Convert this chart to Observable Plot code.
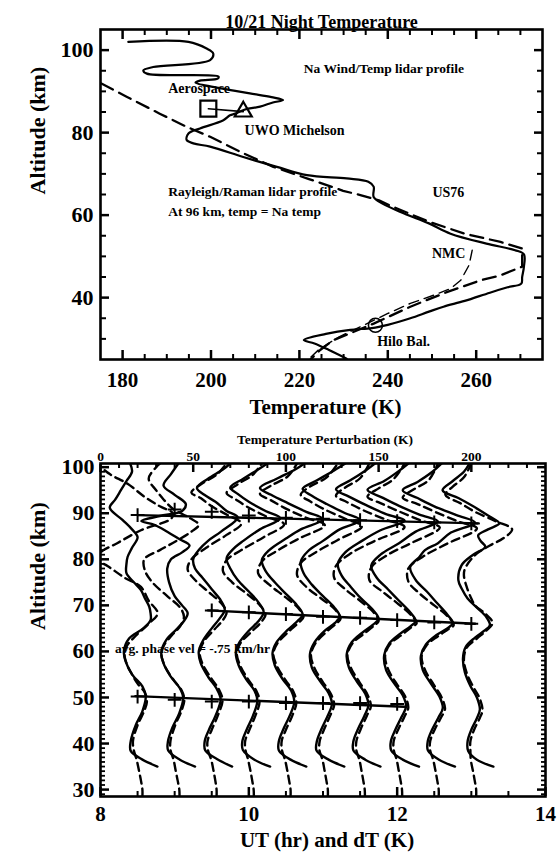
<!DOCTYPE html>
<html><head><meta charset="utf-8">
<script src="https://cdn.jsdelivr.net/npm/d3@7"></script>
<script src="https://cdn.jsdelivr.net/npm/@observablehq/plot@0.6"></script>
<style>
html,body{margin:0;padding:0;background:#fff;}
#chart svg{display:block;}
</style></head><body><div id="chart"></div>
<script>
// ---------------- TOP PANEL DATA: [temperature K, altitude km] ----------------
const naRayleighProfile = [[181.3,102],[194.9,102],[199,100.4],[200.5,99.2],[199.8,97.6],[186.9,95.9],[184.7,95.1],[185.5,94.3],[201.7,93.6],[201.5,93.1],[197.5,92.6],[196.5,92.1],[202,90.8],[208.8,89.5],[213.7,88.6],[216.3,87.9],[214,87.3],[211.1,86.3],[207.7,85.6],[205.5,84.6],[204.3,84.2],[202.8,83],[197.5,81],[194.9,79.8],[194.5,78.2],[196,77.4],[199.8,76.6],[207.3,74.1],[214.9,71.7],[221.7,69.7],[230.7,68.9],[235.6,68.1],[236.8,66.9],[236.8,64.4],[238.8,62.8],[243.7,60.4],[249.3,58],[254.2,55.5],[262.3,53.1],[268.8,51.5],[270.8,50.5],[270.8,47.5],[270.4,45],[270.2,43.4],[267.1,42.5],[263.1,41.2],[257.4,39.2],[252.6,37.8],[249.3,36.6],[245.1,35],[240,33.4],[236.4,32.6],[231.5,32.2],[226,31.2],[221,29.7],[223.4,28.9],[226.7,27.3],[230.7,25.2]];
const us76Profile = [[175.2,91.9],[180.9,88.7],[188.4,84.6],[194.5,81.4],[199.8,79],[207.3,75],[214.1,71.7],[222,68.8],[229.9,65.9],[234,64.8],[238,63.6],[241.2,62],[249.3,58.4],[257.4,55.5],[265.5,53.5],[270.4,51.9],[270.4,47.5],[265.5,45.4],[261,44.2],[253.5,41.4],[245.1,37.8],[236.8,33.7],[227.7,29.7],[224.7,27.3],[222.5,25]];
const nmcProfile = [[259.1,51.5],[258.4,47.9],[256.5,44.2],[254.2,42.2],[250.4,40.6],[245.1,38.6],[239.9,36.1],[235.3,33.7],[229,30.5],[224.5,27.5],[222,25]];
const aerospacePoint = [199.4, 85.8];
const uwoPoint = [207.3, 85.1];
const hiloPoint = [237.2, 33.3];
const tempMajorTicks = [180, 200, 220, 240, 260];
const tempMinorTicks = [185,190,195,205,210,215,225,230,235,245,250,255,265,270];
const altMajorTicksTop = [40, 60, 80, 100];
const altMinorTicksTop = [30,35,45,50,55,65,70,75,85,90,95];

// ---------------- BOTTOM PANEL DATA ----------------
// profile times (UT hr); each profile: [altitude km, perturbation dT K]
const profileUT = [8.5, 9.0, 9.5, 10.0, 10.5, 11.0, 11.5, 12.0, 12.5, 13.0];
const kelvinPerHour = 40; // top axis: 240 K spans the 6 hr bottom axis

const s0 = [[35,10.7],[36.5,2.6],[38.4,-3.7],[40.5,-3.7],[44,-1],[47,2.6],[50.2,4.4],[52.4,2.6],[54.9,-2.8],[57.8,-6.4],[60,-7.4],[62.8,-4.6],[65,3],[66.8,7],[68.3,7],[69.7,6.3],[71.5,4],[73.3,1.8],[75,-2],[77,-6],[79,-6],[80.5,-5.4],[82.5,-3],[84.8,0],[86.5,-3],[88.5,-8],[91.2,-15],[93,-12],[95,-9],[97,-6],[99,-3],[100.8,-4]];
const s1 = [[35,11],[36.5,2.8],[38.5,-3.5],[40.5,-3.6],[43.5,-1.2],[46.5,2.4],[49.9,4.6],[52,2.8],[54.7,-2.4],[57.6,-6.2],[59.9,-7.2],[62.5,-4.5],[64.8,1],[66.6,5],[68.3,7],[70,4],[72,0],[75,-3],[78,-4],[80,-2],[81.5,4],[83,8],[84.5,2],[86,-4],[87.5,-11],[88.3,-18],[89.4,-8],[90.5,4],[92,6],[94,0],[96,-6],[98.5,-2],[100.8,2]];
const s2 = [[35,11],[36.6,3],[38.5,-3.5],[40.5,-3.8],[43,-1.5],[46,2],[49.6,4.8],[52,2.5],[54.5,-2],[57.5,-6],[60,-7],[62.5,-4.5],[65,0],[67,4],[69,7],[71,5],[73.5,0],[76,-5],[78,-9],[80,-10],[82,-7],[84,-2],[86,5],[89.1,14],[90.5,8],[92.5,2],[94,-4],[95.5,-8],[97.5,-2],[99.5,6],[100.8,10]];
const s3 = [[35,11.5],[36.5,3],[38.6,-3.2],[40.5,-3.5],[43,-1.2],[46,2.2],[49.3,4.6],[51.5,3],[54,-1.5],[57,-5.5],[59.8,-7],[62,-5],[64.5,0],[66.5,5],[68.5,8],[70.5,5.5],[73,0],[75.5,-6],[78,-10],[80.2,-12],[82,-9],[84,-3],[86.5,6],[88.9,17],[90.5,9],[92.5,0],[94.2,-6],[95.6,-10],[97.5,-3],[99.5,5],[100.8,10]];
const s4 = [[35,11],[36.5,2.5],[38.5,-3.8],[40.5,-3.8],[43,-1.5],[46,2],[49,4.5],[51.5,2.8],[54,-1.8],[57,-6],[59.7,-7.2],[62,-5],[64.5,0.5],[66.5,6],[68,9],[70,6],[72.5,0],[75,-6],[77.5,-11],[79.8,-13],[82,-9],[84.5,0],[86.5,8],[88.7,20],[90.3,11],[92.2,1],[94,-8],[95.5,-14],[97.5,-5],[99.5,5],[100.8,10]];
const s5 = [[35,11.5],[36.5,3],[38.5,-3.5],[40.5,-3.3],[43,-1],[46,2.5],[48.6,4.8],[51,3],[53.5,-1.5],[56.5,-6],[59.5,-7],[62,-4.5],[64.5,1],[66.2,6.5],[67.6,9],[69.6,6],[72,0],[74.5,-6],[77,-10.5],[79.5,-12],[81.8,-8],[84,0],[86.5,9],[88.5,20],[90,12],[92,2],[93.8,-6],[95.3,-11],[97.2,-3],[99.3,6],[100.8,12]];
const s6 = [[35,11],[36.5,2.8],[38.5,-3.6],[40.5,-3.6],[43,-1.3],[46,2.3],[48.3,4.5],[50.8,2.8],[53.5,-1.8],[56.5,-6],[59.4,-7.2],[62,-4.5],[64,1],[65.8,7],[67.1,10],[69,7],[71.5,0.5],[74,-5],[76.5,-10],[79,-12],[81.5,-8],[84,1],[86.3,11],[88.4,24],[89.8,14],[91.8,3],[93.6,-6],[95.2,-13],[97.2,-5],[99.3,3],[100.8,8]];
const s7 = [[35,11.8],[36.5,3],[38.5,-3.2],[40.5,-3.4],[43,-1],[45.8,2.4],[48,4.8],[50.5,3],[53,-1.5],[56,-6],[59.2,-7],[61.8,-4.2],[63.8,1.5],[65.4,7],[66.6,10],[68.5,7],[71,1],[73.5,-5],[76,-11],[78.6,-14],[81,-9],[83.5,1],[86,10],[88.2,22],[89.7,12],[91.6,1],[93.4,-8],[95.1,-16],[97,-7],[99.2,1],[100.8,6]];
const s8 = [[35,11.2],[36.5,2.6],[38.5,-3.4],[40.5,-3.5],[43,-1.2],[45.6,2.2],[47.7,4.6],[50.2,2.8],[53,-1.8],[56,-6.2],[59,-7.2],[61.5,-4.5],[63.5,1],[65,7],[66.2,10],[68,7],[70.5,1.5],[73,-4],[75.5,-10],[78.3,-13],[80.5,-8],[82,-5],[83.5,2],[85.8,9],[88,22],[89.6,12],[91.5,0],[93.3,-9],[95,-17],[96.8,-9],[99,-1],[100.8,4]];
const s9 = [[35,11.9],[36.5,3],[38.4,-1.7],[40.5,-2],[43,0],[45.5,3],[47.4,4.6],[50,3],[52.5,-0.5],[55.5,-3.5],[58.5,-4.5],[61,-3],[63,2],[64.5,7],[65.7,10],[67.5,8],[69.5,3],[71.5,-2],[73.5,-5],[75.5,-7],[78.7,-5.3],[81,1],[82.7,7.5],[84,5],[85.2,3.7],[86.5,9],[87.8,15],[89.5,9],[91.5,1],[93.3,-7],[95,-15.5],[97,-10],[99,-4],[100.8,-1]];

const d0 = [[28.5,2.6],[30,2.6],[32,1.8],[34,0.8],[36.5,-0.5],[38.5,-2],[40.5,-2.5],[44,0],[47,3.5],[49,5],[51,4],[53,0],[55,-3],[57,-5.5],[59,-7],[61,-6],[63,-2],[66,6],[68.3,10.8],[71,6],[74,1.8],[76,-7],[78.5,-16],[80,-22],[81.5,-20],[83.5,-11],[86.3,1.8],[88.8,18],[90,19],[91.5,12],[93.5,4],[96.4,-5.4],[98.5,-15],[100.8,-22]];
const d1 = [[28.5,2.6],[30,2.5],[32,1.6],[34,0.6],[36.5,-0.6],[38.5,-2.2],[40.5,-2.3],[44,0.3],[47,3.6],[49.5,5.2],[51.5,3.8],[53.5,0],[55.5,-3.5],[57.5,-6],[59.5,-7.2],[61.5,-5.5],[63.5,-1.5],[65.5,3],[67.5,5],[69.5,3],[72,-4],[75,-12],[77.5,-16],[80,-16.4],[82,-8],[84,1],[86,9],[87.5,13],[89,8],[91,-1],[93,-6],[95,-10],[97.5,-14],[100,-10],[100.8,-8]];
const d2 = [[28.5,2.6],[30,2.6],[32,1.9],[34,1],[36.5,-0.3],[38.5,-2],[40.5,-2.3],[43,0],[46,3.2],[49.4,5.8],[51.8,3.8],[54.3,-0.5],[57.3,-5],[59.8,-6.5],[62.3,-4],[64.8,1.5],[66.8,6],[68.5,8],[70.5,5],[73,-2],[75.5,-9],[77.8,-13],[80,-11],[82.5,-3],[85.3,8],[87.8,16],[89.5,9],[91.5,0],[93.3,-6],[94.5,-11],[96.5,-5],[98.5,3],[100.8,8]];
const d3 = [[28.5,2.7],[30,2.6],[32,1.8],[34,0.9],[36.5,-0.4],[38.6,-1.8],[40.5,-2],[43,0.3],[46,3.5],[49.1,5.8],[51.3,4.2],[53.8,-0.2],[56.8,-4.5],[59.6,-6.5],[61.8,-4.5],[64.3,1.5],[66.3,6.5],[68,9],[70,6],[72.5,-1],[75,-9],[77.5,-14],[79.8,-12],[82,-4],[84.8,8],[87.6,19],[89.2,10],[91.2,0],[93,-7],[94.4,-12],[96.3,-6],[98.3,2],[100.8,7]];
const d4 = [[28.5,2.5],[30,2.5],[32,1.7],[34,0.8],[36.5,-0.5],[38.5,-2.1],[40.5,-2.3],[43,0],[46,3.4],[48.8,5.6],[51.3,4],[53.8,-0.3],[56.8,-4.8],[59.5,-6.8],[61.8,-4.5],[64.3,1.5],[66.3,7],[67.5,9.5],[69.5,6.5],[72,-1],[74.5,-9],[77,-15],[79.5,-13],[81.8,-5],[84.5,7],[87.4,21],[89,11],[91,0],[92.8,-8],[94.2,-14],[96,-8],[98,1],[100.8,6]];
const d5 = [[28.5,2.6],[30,2.6],[32,1.8],[34,0.9],[36.5,-0.3],[38.5,-1.9],[40.5,-1.8],[43,0.5],[46,3.8],[48.4,6],[50.8,4.2],[53.3,0],[56.3,-4.5],[59.3,-6.5],[61.8,-4],[64.3,2],[66,7],[67.1,9.5],[69.1,6.5],[71.5,-1],[74,-9],[76.6,-14],[79.2,-12],[81.5,-4],[84.2,8],[87.2,21],[88.8,12],[90.8,1],[92.6,-7],[94,-12],[95.8,-7],[97.8,2],[100.8,8]];
const d6 = [[28.5,2.6],[30,2.5],[32,1.7],[34,0.8],[36.5,-0.4],[38.5,-2],[40.5,-2],[43,0.2],[46,3.6],[48.1,5.8],[50.6,4],[53.3,-0.3],[56.3,-4.8],[59.2,-6.8],[61.8,-4],[63.8,2],[65.6,7.5],[66.6,10],[68.6,7],[71,0],[73.5,-8],[76,-14],[78.6,-13],[81.3,-5],[84,8],[87,24],[88.6,14],[90.6,2],[92.4,-7],[93.8,-13],[95.6,-8],[97.6,0],[100.8,5]];
const d7 = [[28.5,2.7],[30,2.6],[32,1.8],[34,0.9],[36.5,-0.3],[38.5,-1.8],[40.5,-1.9],[43,0.5],[45.8,3.9],[47.8,6],[50.3,4.2],[52.8,0],[55.8,-4.5],[59,-6.5],[61.6,-3.8],[63.6,2.5],[65.2,7.5],[66.1,10.5],[68.1,7],[70.5,0],[73,-8],[75.5,-15],[78.2,-14],[81,-5],[83.6,8],[86.9,23],[88.4,13],[90.4,1],[92.2,-9],[93.6,-16],[95.4,-10],[97.4,-2],[100.8,4]];
const d8 = [[28.5,2.4],[30,2.4],[32,1.6],[34,0.7],[36.5,-0.6],[38.5,-2.2],[40.5,-2.2],[43,0.2],[45.6,3.6],[47.5,5.8],[50,4],[52.8,-0.3],[55.8,-4.8],[58.8,-6.8],[61.3,-4.2],[63.3,2],[64.8,7.5],[65.7,10.5],[67.7,7],[70,0],[72.6,-8],[75.2,-14],[78,-14],[80.6,-6],[83.4,7],[86.7,23],[88.2,13],[90.2,1],[92,-9],[93.4,-17],[95.2,-11],[97.2,-3],[100.8,2]];
const d9 = [[28.5,2.6],[30,2.6],[32,1.8],[34,0.9],[36.5,-0.3],[38.4,-0.5],[40.5,-0.5],[43,1.5],[45.5,4.5],[47.2,6],[49.8,4.5],[52.3,1],[55.3,-2.5],[58.3,-4],[60.8,-2.5],[62.8,3],[64.5,8],[66.2,11.5],[68.2,7.5],[70,2],[71.5,0],[74,-2.5],[76.5,-4],[78,-3.4],[80.9,2],[83,10],[84.5,17],[86.5,22],[88.3,13],[90.3,2],[92.2,-6],[94,-14],[95.8,-10],[97.8,-4],[100.8,0]];

// phase lines (UT hr, altitude km) and "+" markers
const phaseUpperLine = [[8.5,89.6],[13.1,87.8]];
const phaseUpperMarkUT = [8.5, 9.0, 9.5, 10.0, 10.5, 11.0, 11.5, 12.0, 12.5, 13.0];
const phaseUpperMarkAlt = [89.6, 90.8, 90.3, 89.5, 89.0, 88.8, 88.5, 88.3, 88.0, 87.8];
const phaseMidLine = [[9.45,68.9],[13.05,66.0]];
const phaseMidMarkUT = [9.5, 10.0, 10.5, 11.0, 11.5, 12.0, 12.5, 13.0];
const phaseMidMarkAlt = [68.9, 68.5, 68.1, 67.5, 67.3, 66.8, 66.3, 66.0];
const phaseLowLine = [[8.47,50.3],[12.1,48.0]];
const phaseLowMarkUT = [8.5, 9.0, 9.5, 10.0, 10.5, 11.0, 11.5, 12.0];
const phaseLowMarkAlt = [50.2, 49.5, 49.1, 49.1, 48.8, 48.8, 48.8, 48.6];

const utMajorTicks = [8, 10, 12, 14];
const utMinorTicks = [8.5, 9, 9.5, 10.5, 11, 11.5, 12.5, 13, 13.5];
const dtMajorTicks = [0, 50, 100, 150, 200];
const dtMinorTicks = [10,20,30,40,60,70,80,90,110,120,130,140,160,170,180,190,210,220,230];
const altMajorTicksBot = [30, 40, 50, 60, 70, 80, 90, 100];
const altMinorTicksBot = [29,31,32,33,34,35,36,37,38,39,41,42,43,44,45,46,47,48,49,51,52,53,54,55,56,57,58,59,61,62,63,64,65,66,67,68,69,71,72,73,74,75,76,77,78,79,81,82,83,84,85,86,87,88,89,91,92,93,94,95,96,97,98,99];

// ---------------- RENDER ----------------
const FONT = "'Liberation Serif','Times New Roman',serif";
const toTA = arr => arr.map(([T, alt]) => ({T, alt}));
const style = {fontFamily: FONT, fontWeight: "bold", background: "white", color: "black", overflow: "visible"};
const W = 558, ML = 100;

// inward-pointing ticks: axis tick marks of length len, shifted back inside the frame
const tickIn = (axis, anchor, values, len, sw) => {
  const shift = anchor === "bottom" ? {dy: -len} : anchor === "top" ? {dy: len} : anchor === "left" ? {dx: len} : {dx: -len};
  return axis(values, {anchor, tickSize: len, ...shift, strokeWidth: sw, stroke: "black", fill: "none", label: null, tickFormat: () => ""});
};
const ticksX = (values, len, sw, sides = ["bottom", "top"]) => sides.map(s => tickIn(Plot.axisX, s, values, len, sw));
const ticksY = (values, len, sw, sides = ["left", "right"]) => sides.map(s => tickIn(Plot.axisY, s, values, len, sw));

const topChart = Plot.plot({
  width: W, height: 430,
  marginLeft: ML, marginRight: 16, marginTop: 29, marginBottom: 71,
  x: {domain: [175, 275]},
  y: {domain: [25, 105]},
  style,
  marks: [
    Plot.line(toTA(us76Profile), {x: "T", y: "alt", stroke: "black", strokeWidth: 2.3, strokeDasharray: "13,7", clip: true}),
    Plot.line(toTA(nmcProfile), {x: "T", y: "alt", stroke: "black", strokeWidth: 1.4, strokeDasharray: "10,6", clip: true}),
    Plot.line(toTA(naRayleighProfile), {x: "T", y: "alt", stroke: "black", strokeWidth: 2.2, curve: "catmull-rom", clip: true}),
    Plot.line(toTA([aerospacePoint, uwoPoint]), {x: "T", y: "alt", stroke: "black", strokeWidth: 1.6}),
    Plot.dot(toTA([aerospacePoint]), {x: "T", y: "alt", symbol: "square", r: 9, stroke: "black", strokeWidth: 2.2, fill: "none"}),
    Plot.dot(toTA([uwoPoint]), {x: "T", y: "alt", symbol: "triangle", r: 6.3, stroke: "black", strokeWidth: 2.2, fill: "none"}),
    Plot.dot(toTA([hiloPoint]), {x: "T", y: "alt", symbol: "circle", r: 7, stroke: "black", strokeWidth: 1.6, fill: "none"}),
    Plot.text(["Na Wind/Temp lidar profile"], {x: 221, y: 95.5, textAnchor: "start", fontSize: 13.5, fontWeight: "bold"}),
    Plot.text(["Aerospace"], {x: 190.3, y: 90.7, textAnchor: "start", fontSize: 14, fontWeight: "bold"}),
    Plot.text(["UWO Michelson"], {x: 207.6, y: 80.6, textAnchor: "start", fontSize: 14, fontWeight: "bold"}),
    Plot.text(["Rayleigh/Raman lidar profile"], {x: 190.3, y: 65.6, textAnchor: "start", fontSize: 13.5, fontWeight: "bold"}),
    Plot.text(["At 96 km, temp = Na temp"], {x: 190.3, y: 60.8, textAnchor: "start", fontSize: 13.5, fontWeight: "bold"}),
    Plot.text(["US76"], {x: 250.1, y: 65.4, textAnchor: "start", fontSize: 14, fontWeight: "bold"}),
    Plot.text(["NMC"], {x: 250, y: 50.7, textAnchor: "start", fontSize: 14, fontWeight: "bold"}),
    Plot.text(["Hilo Bal."], {x: 237.6, y: 29.3, textAnchor: "start", fontSize: 14, fontWeight: "bold"}),
    ...ticksX(tempMajorTicks, 9, 2.5),
    ...ticksX(tempMinorTicks, 5, 2),
    ...ticksY(altMajorTicksTop, 9, 2.5),
    ...ticksY(altMinorTicksTop, 6, 2),
    Plot.frame({stroke: "black", strokeWidth: 2.6}),
    Plot.axisX(tempMajorTicks, {anchor: "bottom", tickSize: 0, tickPadding: 13, fontSize: 21, label: null}),
    Plot.axisY(altMajorTicksTop, {anchor: "left", tickSize: 0, tickPadding: 7, fontSize: 22, label: null}),
    Plot.text(["10/21 Night Temperature"], {frameAnchor: "top", dy: -14, fontSize: 18, fontWeight: "bold"}),
    Plot.text(["Temperature (K)"], {frameAnchor: "bottom", dy: 54, dx: 4, fontSize: 21, fontWeight: "bold"}),
    Plot.text(["Altitude (km)"], {frameAnchor: "left", dx: -63, rotate: -90, fontSize: 22, fontWeight: "bold"})
  ]
});

const profileRows = profiles => profiles.flatMap((p, i) => p.map(([alt, dT]) => ({id: i, ut: profileUT[i], alt, dT})));
const solidRows = profileRows([s0, s1, s2, s3, s4, s5, s6, s7, s8, s9]);
const dashedRows = profileRows([d0, d1, d2, d3, d4, d5, d6, d7, d8, d9]);
const xOf = d => d.ut + d.dT / kelvinPerHour;
const toUA = arr => arr.map(([ut, alt]) => ({ut, alt}));
const markRows = (uts, alts) => uts.map((ut, i) => ({ut, alt: alts[i]}));
const dtPos = k => 8 + k / kelvinPerHour;

const botChart = Plot.plot({
  width: W, height: 428,
  marginLeft: ML, marginRight: 13, marginTop: 33, marginBottom: 62,
  x: {domain: [8, 14]},
  y: {domain: [28.5, 100.8]},
  style,
  marks: [
    Plot.line(dashedRows, {x: xOf, y: "alt", z: "id", stroke: "black", strokeWidth: 2.4, strokeDasharray: "8,5", curve: "catmull-rom", clip: true}),
    Plot.line(solidRows, {x: xOf, y: "alt", z: "id", stroke: "black", strokeWidth: 2.4, curve: "catmull-rom", clip: true}),
    Plot.line(toUA(phaseUpperLine), {x: "ut", y: "alt", stroke: "black", strokeWidth: 2.4}),
    Plot.line(toUA(phaseMidLine), {x: "ut", y: "alt", stroke: "black", strokeWidth: 2.4}),
    Plot.line(toUA(phaseLowLine), {x: "ut", y: "alt", stroke: "black", strokeWidth: 2.4}),
    Plot.dot(markRows(phaseUpperMarkUT, phaseUpperMarkAlt), {x: "ut", y: "alt", symbol: "plus", r: 4.5, stroke: "black", strokeWidth: 2}),
    Plot.dot(markRows(phaseMidMarkUT, phaseMidMarkAlt), {x: "ut", y: "alt", symbol: "plus", r: 4.5, stroke: "black", strokeWidth: 2}),
    Plot.dot(markRows(phaseLowMarkUT, phaseLowMarkAlt), {x: "ut", y: "alt", symbol: "plus", r: 4.5, stroke: "black", strokeWidth: 2}),
    Plot.text(["avg. phase vel = -.75 km/hr"], {x: 8.194, y: 60.7, textAnchor: "start", fontSize: 13.5, fontWeight: "bold"}),
    ...ticksX(utMajorTicks, 9, 2.5, ["bottom"]),
    ...ticksX(utMinorTicks, 5, 2, ["bottom"]),
    ...ticksX(dtMajorTicks.map(dtPos), 8, 2.5, ["top"]),
    ...ticksX(dtMinorTicks.map(dtPos), 4, 2, ["top"]),
    ...ticksY(altMajorTicksBot, 9, 2.5),
    ...ticksY(altMinorTicksBot, 5, 1.8),
    Plot.frame({stroke: "black", strokeWidth: 2.6}),
    Plot.axisX(utMajorTicks, {anchor: "bottom", tickSize: 0, tickPadding: 10, fontSize: 21, label: null}),
    Plot.axisX(dtMajorTicks.map(dtPos), {anchor: "top", tickSize: 0, tickPadding: 3, fontSize: 13.5, tickFormat: v => Math.round((v - 8) * kelvinPerHour), label: null}),
    Plot.axisY(altMajorTicksBot, {anchor: "left", tickSize: 0, tickPadding: 6, fontSize: 22, label: null}),
    Plot.text(["Temperature Perturbation (K)"], {frameAnchor: "top", dy: -29, dx: 2, fontSize: 13.5, fontWeight: "bold"}),
    Plot.text(["UT (hr) and dT (K)"], {frameAnchor: "bottom", dy: 50, dx: 4, fontSize: 21, fontWeight: "bold"}),
    Plot.text(["Altitude (km)"], {frameAnchor: "left", dx: -63, rotate: -90, fontSize: 22, fontWeight: "bold"})
  ]
});

const host = document.getElementById("chart");
host.appendChild(topChart);
host.appendChild(botChart);
</script></body></html>
